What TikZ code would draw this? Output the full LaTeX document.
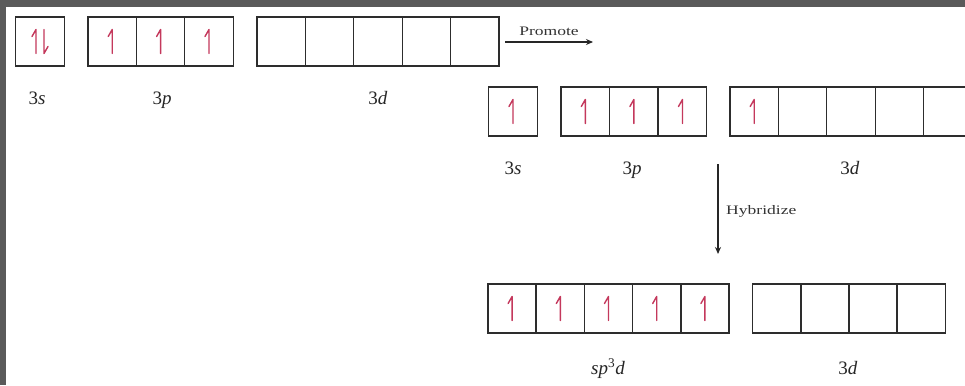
\documentclass[tikz,border=0pt]{standalone}
\usepackage{fontspec}
\setmainfont{Liberation Serif}
\usetikzlibrary{calc,arrows.meta}
\definecolor{boxline}{RGB}{45,45,45}
\definecolor{harpred}{RGB}{196,56,92}
\definecolor{frameg}{RGB}{90,90,90}
\tikzset{
  orb/.style={draw=boxline, line width=1.3pt, minimum width=48.4pt, minimum height=49pt, inner sep=0pt, outer sep=0pt},
  harp/.style={draw=harpred, line width=1.4pt, line cap=round, line join=round},
  biglab/.style={font=\fontsize{19}{22}\selectfont, inner sep=0pt, anchor=base, text=black!85},
  smalllab/.style={font=\fontsize{13}{15}\selectfont, inner sep=0pt, text=black!80},
  flow/.style={draw=black!85, line width=1.2pt, -{Stealth[length=7pt,width=6pt]}}
}
\newcommand\myuparr[2]{\draw[harp] ($(#1)+(#2,12)$) -- ($(#1)+(#2,-12)$) -- ($(#1)+(#2-4,-5)$);}
\newcommand\mydnarr[2]{\draw[harp] ($(#1)+(#2,-12)$) -- ($(#1)+(#2,12)$) -- ($(#1)+(#2+4,5)$);}
\begin{document}
\begin{tikzpicture}[x=1pt,y=-1pt]
\useasboundingbox (0,0) rectangle (965,385);
\fill[white] (0,0) rectangle (965,385);
\fill[frameg] (0,0) rectangle (965,7);
\fill[frameg] (0,0) rectangle (6,385);
\clip (0,0) rectangle (965,385);

% ---- row 1: ground state ----
\node[orb] (A3s) at (40,41.5) {};
\foreach \i in {0,1,2} \node[orb] (A3p\i) at ({88+24.2+48.4*\i},41.5) {};
\foreach \i in {0,...,4} \node[orb] (A3d\i) at ({257+24.2+48.4*\i},41.5) {};
\myuparr{A3s}{-4}
\mydnarr{A3s}{4}
\foreach \i in {0,1,2} {\myuparr{A3p\i}{0}}
\node[biglab] (LA3s) at (37,104) {3\textit{s}};
\node[biglab] (LA3p) at (162,104) {3\textit{p}};
\node[biglab] (LA3d) at (378,104) {3\textit{d}};

% promote arrow
\coordinate (P1) at (505,42);
\coordinate (P2) at (593,42);
\draw[flow] (P1) -- (P2);
\node[smalllab] (LProm) at (549,31) {\scalebox{1.35}[1]{Promote}};

% ---- row 2: excited state ----
\node[orb] (B3s) at (513,111.5) {};
\foreach \i in {0,1,2} \node[orb] (B3p\i) at ({561+24.3+48.6*\i},111.5) {};
\foreach \i in {0,...,4} \node[orb] (B3d\i) at ({730+24.2+48.4*\i},111.5) {};
\myuparr{B3s}{0}
\foreach \i in {0,1,2} {\myuparr{B3p\i}{0}}
\myuparr{B3d0}{0}
\node[biglab] (LB3s) at (513,174) {3\textit{s}};
\node[biglab] (LB3p) at (632,174) {3\textit{p}};
\node[biglab] (LB3d) at (850,174) {3\textit{d}};

% hybridize arrow
\coordinate (H1) at (718,164);
\coordinate (H2) at (718,254);
\draw[flow] (H1) -- (H2);
\node[smalllab, anchor=west] (LHyb) at (726,211) {\scalebox{1.35}[1]{Hybridize}};

% ---- row 3: hybridized ----
\foreach \i in {0,...,4} \node[orb] (Csp\i) at ({488+24.1+48.2*\i},308.5) {};
\foreach \i in {0,...,3} \node[orb] (C3d\i) at ({753+24+48*\i},308.5) {};
\foreach \i in {0,...,4} {\myuparr{Csp\i}{0}}
\node[biglab] (LCsp) at (608,374) {\textit{sp}\textsuperscript{3}\textit{d}};
\node[biglab] (LC3d) at (848,374) {3\textit{d}};
\end{tikzpicture}
\end{document}
